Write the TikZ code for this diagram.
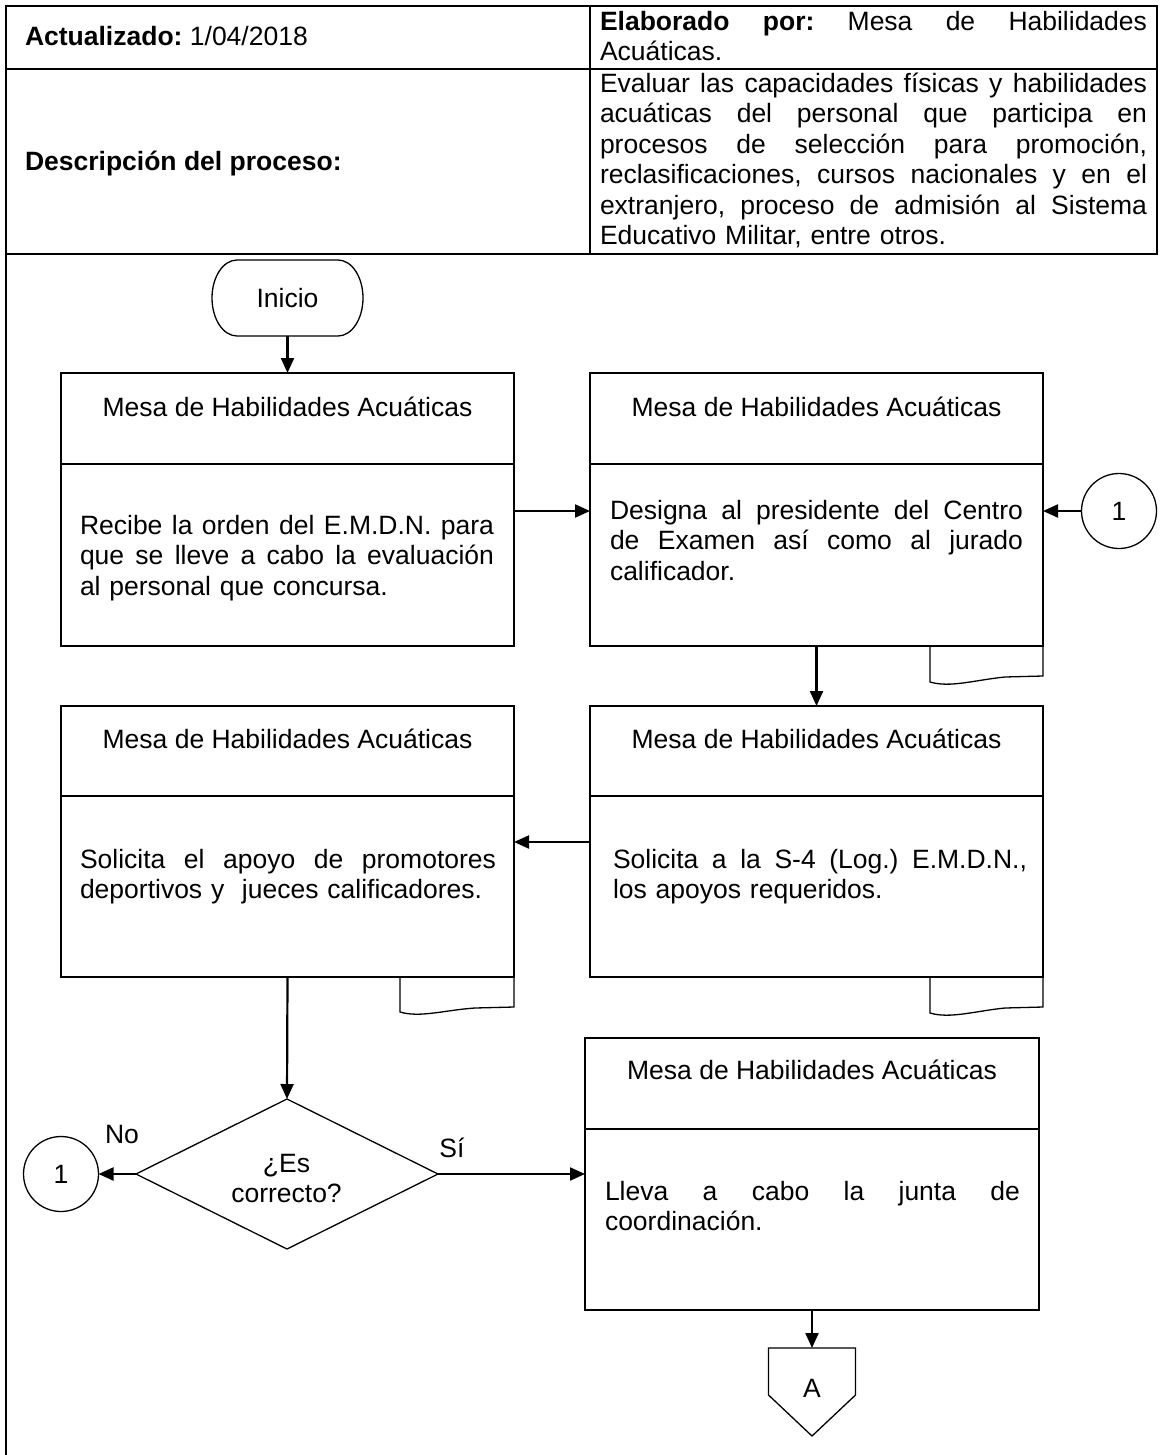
\documentclass[tikz,border=0pt]{standalone}
\usepackage{fontspec}
\setmainfont{Liberation Sans}
\usetikzlibrary{arrows.meta,shapes.geometric}
\frenchspacing
\newcommand{\jline}[2]{{\spaceskip=0pt\xspaceskip=0pt\makebox[#1][s]{#2}}}
\begin{document}
\begin{tikzpicture}[x=1pt,y=1pt,
  txt/.style={inner sep=0pt, outer sep=0pt, font=\fontsize{26.5}{30.5}\selectfont},
  para/.style={txt, anchor=base west, align=left},
  boxpart/.style={draw=black, line width=1.3pt, rectangle, inner sep=0pt, outer sep=0pt, anchor=north west},
  arr/.style={line width=2.2pt, -{Triangle[width=13pt,length=15pt]}},
  conn/.style={draw=black, circle, line width=1.3pt, minimum size=75pt, inner sep=0pt, outer sep=0pt, font=\fontsize{26.5}{30.5}\selectfont},
  tabline/.style={line width=1.3pt},
  frame/.style={line width=1.5pt}
]
\useasboundingbox (0,0) rectangle (1159,-1455);

% ---------- header table ----------
\draw[frame] (6,-6) rectangle (1157,-254);
\draw[frame] (590,-6) -- (590,-254);
\draw[frame] (6,-69) -- (1157,-69);
\draw[frame] (6,-254) -- (6,-1455);

\node[txt, anchor=base west] (act) at (25,-46) {\textbf{Actualizado:} 1/04/2018};
\node[txt, anchor=base west] (descl) at (25,-171) {\textbf{Descripción del proceso:}};
\node[para, text width=547pt] (elab) at (600,-30.5)
  {\jline{547pt}{\textbf{Elaborado por:} Mesa de Habilidades}\\Acuáticas.};
\node[para, text width=547pt] (desc) at (600,-92.5)
  {\jline{547pt}{Evaluar las capacidades físicas y habilidades}\\
   \jline{547pt}{acuáticas del personal que participa en}\\
   \jline{547pt}{procesos de selección para promoción,}\\
   \jline{547pt}{reclasificaciones, cursos nacionales y en el}\\
   \jline{547pt}{extranjero, proceso de admisión al Sistema}\\
   Educativo Militar, entre otros.};

% ---------- Inicio ----------
\node[txt, minimum width=151pt, minimum height=76pt] (inicio) at (287.5,-298) {Inicio};
\draw[line width=1.3pt] ([xshift=25pt]inicio.north west) -- ([xshift=-25pt]inicio.north east)
  arc[start angle=90, end angle=-90, x radius=25pt, y radius=38pt]
  -- ([xshift=25pt]inicio.south west)
  arc[start angle=270, end angle=90, x radius=25pt, y radius=38pt] -- cycle;

% ---------- box 1 ----------
\node[boxpart, minimum width=453pt, minimum height=91pt] (b1h) at (61,-373) {};
\node[boxpart, minimum width=453pt, minimum height=182pt] (b1b) at (61,-464) {};
\node[txt, anchor=base] (b1t) at (287.5,-416) {Mesa de Habilidades Acuáticas};
\node[para, text width=414pt] (b1x) at (80,-534)
  {\jline{414pt}{Recibe la orden del E.M.D.N. para}\\
   \jline{414pt}{que se lleve a cabo la evaluación}\\
   al personal que concursa.};

% ---------- box 2 ----------
\node[boxpart, minimum width=453pt, minimum height=91pt] (b2h) at (590,-373) {};
\node[boxpart, minimum width=453pt, minimum height=182pt] (b2b) at (590,-464) {};
\draw[tabline] (930,-646) -- (930,-682) .. controls (950,-688) and (975,-680) .. (1005,-677) -- (1043,-676) -- (1043,-646);
\node[txt, anchor=base] (b2t) at (816.5,-416) {Mesa de Habilidades Acuáticas};
\node[para, text width=413pt] (b2x) at (610,-519)
  {\jline{413pt}{Designa al presidente del Centro}\\
   \jline{413pt}{de Examen así como al jurado}\\
   calificador.};

\node[conn] (c1) at (1119,-511) {1};

% ---------- box 3 ----------
\node[boxpart, minimum width=453pt, minimum height=90pt] (b3h) at (61,-706) {};
\node[boxpart, minimum width=453pt, minimum height=181pt] (b3b) at (61,-796) {};
\draw[tabline] (400,-977) -- (400,-1012) .. controls (420,-1018) and (445,-1010) .. (475,-1008) -- (514,-1007) -- (514,-977);
\node[txt, anchor=base] (b3t) at (287.5,-748) {Mesa de Habilidades Acuáticas};
\node[para, text width=416pt] (b3x) at (80,-868)
  {\jline{416pt}{Solicita el apoyo de promotores}\\
   deportivos y \ jueces calificadores.};

% ---------- box 4 ----------
\node[boxpart, minimum width=453pt, minimum height=90pt] (b4h) at (590,-706) {};
\node[boxpart, minimum width=453pt, minimum height=181pt] (b4b) at (590,-796) {};
\draw[tabline] (930,-977) -- (930,-1013) .. controls (950,-1019) and (975,-1011) .. (1005,-1008) -- (1043,-1007) -- (1043,-977);
\node[txt, anchor=base] (b4t) at (816.5,-748) {Mesa de Habilidades Acuáticas};
\node[para, text width=414pt] (b4x) at (613,-868)
  {\jline{414pt}{Solicita a la S-4 (Log.) E.M.D.N.,}\\
   los apoyos requeridos.};

% ---------- decision ----------
\node[draw=black, diamond, line width=1.3pt, minimum width=302pt, minimum height=150pt, inner sep=0pt, outer sep=0pt] (dec) at (287,-1174) {};
\node[txt, align=center] (dect) at (286.5,-1178.5) {¿Es\\correcto?};
\node[conn] (c2) at (61,-1174) {1};
\node[txt, anchor=base] (nolab) at (122,-1143) {No};
\node[txt, anchor=base] (silab) at (452,-1157) {Sí};

% ---------- box 5 ----------
\node[boxpart, minimum width=454pt, minimum height=91pt] (b5h) at (585,-1038) {};
\node[boxpart, minimum width=454pt, minimum height=181pt] (b5b) at (585,-1129) {};
\node[txt, anchor=base] (b5t) at (812,-1079) {Mesa de Habilidades Acuáticas};
\node[para, text width=415pt] (b5x) at (605,-1200)
  {\jline{415pt}{Lleva a cabo la junta de}\\
   coordinación.};

% ---------- off-page connector ----------
\node[txt, minimum width=87pt, minimum height=88pt, anchor=north] (offA) at (812,-1348) {};
\draw[line width=1.3pt] (offA.north west) -- (offA.north east) -- ([yshift=41pt]offA.south east)
  -- (offA.south) -- ([yshift=41pt]offA.south west) -- cycle;
\node[txt] (Atxt) at (812,-1388) {A};

% ---------- connectors ----------
\coordinate (y43) at (0,-842);
\draw[arr] (inicio.south) -- (b1h.north);
\draw[arr] (b1b.east |- c1.center) -- (b2b.west |- c1.center);
\draw[arr] (c1.west) -- (b2b.east |- c1.west);
\draw[arr] (b2b.south) -- (b4h.north);
\draw[arr] (b4b.west |- y43) -- (b3b.east |- y43);
\draw[arr] (b3b.south) -- (dec.north);
\draw[arr] (dec.west) -- (c2.east);
\draw[arr] (dec.east) -- (b5b.west |- dec.east);
\draw[arr] (b5b.south) -- (offA.north);
\end{tikzpicture}
\end{document}
